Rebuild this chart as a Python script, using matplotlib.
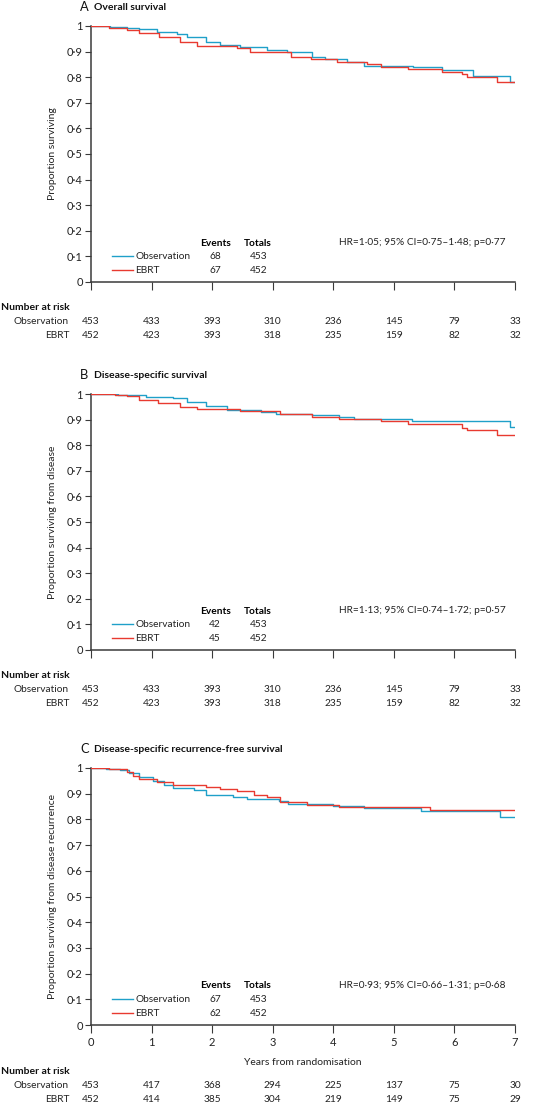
import matplotlib
matplotlib.use("Agg")
import matplotlib.pyplot as plt
import matplotlib.transforms as mtransforms

plt.rcParams['font.family'] = ['Lato', 'DejaVu Sans']

BLUE = "#1fa0c9"
RED = "#e83a30"
AXC = "#3a3a3a"

# Kaplan-Meier steps (years, proportion)
# A: overall survival
a_obs_t = [0, 0.31, 0.6, 0.8, 1.09, 1.42, 1.58, 1.9, 2.13, 2.46, 2.9, 3.23, 3.65, 3.86, 4.22, 4.5, 5.32, 5.79, 6.31, 6.92, 7.0]
a_obs_s = [1.0, 0.995, 0.992, 0.987, 0.977, 0.969, 0.958, 0.939, 0.926, 0.917, 0.906, 0.898, 0.880, 0.870, 0.860, 0.845, 0.838, 0.829, 0.806, 0.783, 0.783]
a_rt_t = [0, 0.3, 0.6, 0.8, 1.13, 1.47, 1.75, 2.41, 2.63, 3.3, 3.63, 4.06, 4.56, 4.79, 5.23, 5.79, 6.12, 6.2, 6.7, 7.0]
a_rt_s = [1.0, 0.993, 0.984, 0.971, 0.957, 0.939, 0.923, 0.915, 0.897, 0.877, 0.870, 0.859, 0.850, 0.841, 0.832, 0.822, 0.813, 0.800, 0.783, 0.783]

# B: disease-specific survival
b_obs_t = [0, 0.45, 0.9, 1.35, 1.58, 1.9, 2.25, 2.8, 3.05, 3.65, 4.1, 4.34, 5.3, 6.92, 7.0]
b_obs_s = [1.0, 0.997, 0.988, 0.984, 0.967, 0.952, 0.939, 0.930, 0.923, 0.918, 0.910, 0.904, 0.895, 0.872, 0.872]
b_rt_t = [0, 0.4, 0.6, 0.8, 1.1, 1.47, 1.75, 2.46, 3.12, 3.65, 4.1, 4.79, 5.23, 6.12, 6.2, 6.7, 7.0]
b_rt_s = [1.0, 0.995, 0.991, 0.975, 0.965, 0.950, 0.942, 0.932, 0.920, 0.910, 0.904, 0.893, 0.881, 0.868, 0.859, 0.838, 0.838]

# C: disease-specific recurrence-free survival
c_obs_t = [0, 0.25, 0.48, 0.62, 0.8, 1.03, 1.2, 1.35, 1.7, 1.9, 2.35, 2.57, 3.1, 3.25, 4.0, 4.5, 5.45, 6.75, 7.0]
c_obs_s = [1.0, 0.997, 0.991, 0.980, 0.965, 0.948, 0.935, 0.922, 0.913, 0.896, 0.886, 0.879, 0.870, 0.861, 0.853, 0.844, 0.831, 0.808, 0.808]
c_rt_t = [0, 0.3, 0.6, 0.7, 0.8, 1.09, 1.36, 1.9, 2.13, 2.41, 2.69, 2.9, 3.12, 3.56, 4.1, 5.6, 7.0]
c_rt_s = [1.0, 0.995, 0.984, 0.969, 0.957, 0.946, 0.935, 0.928, 0.919, 0.909, 0.896, 0.887, 0.866, 0.857, 0.848, 0.835, 0.835]

letters = ["A", "B", "C"]
titles = ["Overall survival", "Disease-specific survival", "Disease-specific recurrence-free survival"]
ylabels = ["Proportion surviving", "Proportion surviving from disease",
           "Proportion surviving from disease recurrence"]
hr_text = ["HR=1·05; 95% CI=0·75–1·48; p=0·77",
           "HR=1·13; 95% CI=0·74–1·72; p=0·57",
           "HR=0·93; 95% CI=0·66–1·31; p=0·68"]
events_obs = [68, 42, 67]
events_rt = [67, 45, 62]
totals = [453, 452]
groups = ["Observation", "EBRT"]

years = list(range(8))
risk_obs = [[453, 433, 393, 310, 236, 145, 79, 33],
            [453, 433, 393, 310, 236, 145, 79, 33],
            [453, 417, 368, 294, 225, 137, 75, 30]]
risk_rt = [[452, 423, 393, 318, 235, 159, 82, 32],
           [452, 423, 393, 318, 235, 159, 82, 32],
           [452, 414, 385, 304, 219, 149, 75, 29]]

curves = [(a_obs_t, a_obs_s, a_rt_t, a_rt_s),
          (b_obs_t, b_obs_s, b_rt_t, b_rt_s),
          (c_obs_t, c_obs_s, c_rt_t, c_rt_s)]

W, H = 546, 1105
fig = plt.figure(figsize=(W / 100, H / 100), dpi=100)

# axes boxes in pixels: (top, bottom)
boxes = [(26, 282), (394, 650), (768, 1025)]
left_px, right_px = 91, 515
fs = 7.3

for i, (top, bot) in enumerate(boxes):
    ax = fig.add_axes([left_px / W, 1 - bot / H, (right_px - left_px) / W, (bot - top) / H])
    ot, os_, rt, rs = curves[i]
    ax.step(ot, os_, where="post", color=BLUE, lw=1.0, zorder=3)
    ax.step(rt, rs, where="post", color=RED, lw=1.0, zorder=3)
    ax.set_xlim(0, 7)
    ax.set_ylim(0, 1)
    for s in ["top", "right"]:
        ax.spines[s].set_visible(False)
    for s in ["left", "bottom"]:
        ax.spines[s].set_color(AXC)
        ax.spines[s].set_linewidth(1.1)
    ax.set_yticks([k / 10 for k in range(11)])
    ax.set_yticklabels(["0"] + ["0·%d" % k for k in range(1, 10)] + ["1"])
    ax.set_xticks(years)
    ax.tick_params(axis="y", direction="out", length=4, width=0.8, color=AXC,
                   labelsize=fs + 0.7, pad=2, labelcolor="#222222")
    ax.tick_params(axis="x", direction="out", length=6, width=0.8, color=AXC,
                   labelsize=fs + 0.7, pad=3, labelcolor="#222222")
    if i < 2:
        ax.set_xticklabels([])
    else:
        ax.set_xlabel("Years from randomisation", fontsize=fs + 0.2, labelpad=7, color="#222222")
    ax.set_ylabel(ylabels[i], fontsize=fs + 0.2, labelpad=7, color="#222222")

    # panel title
    ty = 1 - (top - 19) / H
    fig.text(80 / W, ty, letters[i], fontsize=fs + 2, ha="left", va="center", color="#111111")
    fig.text(94 / W, ty, titles[i], fontsize=fs + 0.2, fontweight="bold", ha="left", va="center",
             color="#111111")

    # HR text
    ax.text(4.1, 0.153, hr_text[i], fontsize=fs, ha="left", va="center", color="#222222")

    # legend table
    ax.text(2.05, 0.152, "Events", fontsize=fs, fontweight="bold", ha="center", va="center")
    ax.text(2.76, 0.152, "Totals", fontsize=fs, fontweight="bold", ha="center", va="center")
    for j, (col, ev) in enumerate([(BLUE, events_obs[i]), (RED, events_rt[i])]):
        yy = 0.10 - j * 0.055
        ax.plot([0.35, 0.70], [yy, yy], color=col, lw=1.0, clip_on=False)
        ax.text(0.73, yy, groups[j], fontsize=fs, ha="left", va="center", color="#222222")
        ax.text(2.05, yy, str(ev), fontsize=fs, ha="center", va="center", color="#222222")
        ax.text(2.76, yy, str(totals[j]), fontsize=fs, ha="center", va="center", color="#222222")

    # number at risk
    trans = mtransforms.blended_transform_factory(ax.transData, fig.transFigure)
    if i < 2:
        hy, r1, r2 = bot + 25, bot + 39, bot + 53
    else:
        hy, r1, r2 = bot + 47, bot + 61, bot + 75
    fig.text(1 / W, 1 - hy / H, "Number at risk", fontsize=fs + 0.2, fontweight="bold",
             ha="left", va="center", color="#111111")
    for row_y, lab, vals in [(r1, groups[0], risk_obs[i]), (r2, groups[1], risk_rt[i])]:
        fig.text(69 / W, 1 - row_y / H, lab, fontsize=fs, ha="right", va="center", color="#222222")
        for x, v in zip(years, vals):
            ax.text(x, 1 - row_y / H, str(v), transform=trans, fontsize=fs,
                    ha="center", va="center", color="#222222", clip_on=False)

fig.savefig("out.png", dpi=100)
